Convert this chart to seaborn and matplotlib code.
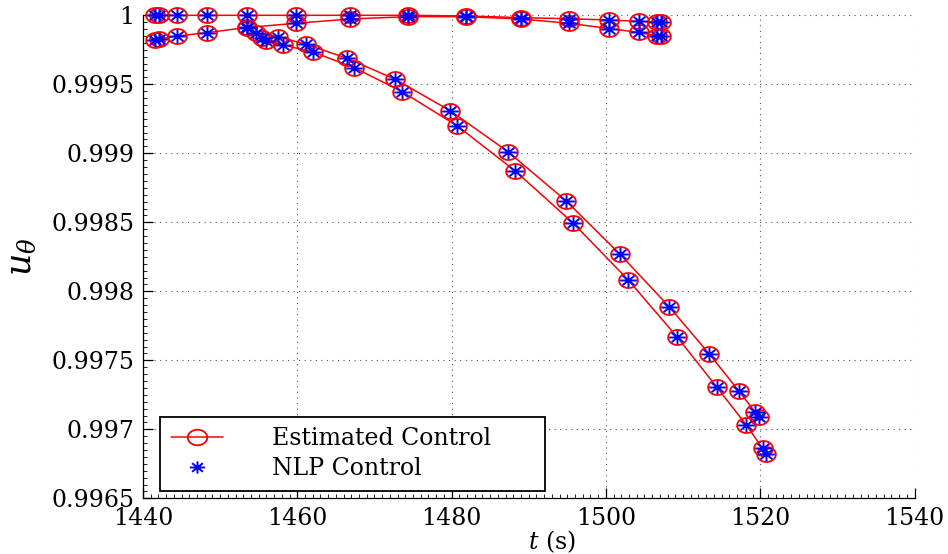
import numpy as np
import matplotlib
matplotlib.use("Agg")
import matplotlib.pyplot as plt
from matplotlib.path import Path
from matplotlib.lines import Line2D
from matplotlib.ticker import FixedLocator, MultipleLocator, FuncFormatter
import seaborn as sns

# --- data -----------------------------------------------------------------
# upper two segments (same time nodes)
t_upper = [1441.5, 1442.1, 1444.4, 1448.3, 1453.5, 1459.8, 1466.8, 1474.4,
           1481.9, 1489.0, 1495.2, 1500.4, 1504.3, 1506.6, 1507.2]
u_upper_1 = [1.0, 1.0, 1.0, 1.0, 1.0, 1.0, 1.0, 1.0,
             0.999995, 0.999983, 0.999975, 0.999966, 0.999956, 0.99995, 0.999948]
u_upper_2 = [0.99982, 0.999826, 0.99985, 0.999874, 0.999912, 0.999942, 0.999973, 0.99999,
             0.99999, 0.999973, 0.999942, 0.999904, 0.999876, 0.99985, 0.999848]

# descending segments
t_desc_1 = [1453.5, 1454.7, 1457.5, 1461.1, 1466.4, 1472.7, 1479.8, 1487.3,
            1494.8, 1501.8, 1508.2, 1513.4, 1517.2, 1519.3, 1519.9]
u_desc_1 = [0.99991, 0.99987, 0.999845, 0.99979, 0.99969, 0.999536, 0.999309, 0.999012,
            0.998657, 0.99827, 0.997888, 0.997546, 0.99728, 0.997128, 0.997087]
t_desc_2 = [1455.4, 1456.0, 1458.2, 1462.1, 1467.4, 1473.6, 1480.7, 1488.2,
            1495.7, 1502.9, 1509.2, 1514.4, 1518.2, 1520.3, 1520.8]
u_desc_2 = [0.999838, 0.999814, 0.999785, 0.999732, 0.99962, 0.999446, 0.9992, 0.998874,
            0.998497, 0.998082, 0.997671, 0.997304, 0.997031, 0.996862, 0.996821]

x_ticks = [1440, 1460, 1480, 1500, 1520, 1540]
y_ticks = [0.9965, 0.997, 0.9975, 0.998, 0.9985, 0.999, 0.9995, 1.0]

segments = [(t_upper, u_upper_1), (t_upper, u_upper_2),
            (t_desc_1, u_desc_1), (t_desc_2, u_desc_2)]

# --- style ----------------------------------------------------------------
sns.set_style("white")
plt.rcParams["font.family"] = ["DejaVu Serif"]
plt.rcParams["mathtext.fontset"] = "dejavuserif"
plt.rcParams["text.color"] = "black"
plt.rcParams["axes.labelcolor"] = "black"
plt.rcParams["xtick.color"] = "black"
plt.rcParams["ytick.color"] = "black"

# slightly wide ellipse and eight-arm asterisk markers
theta = np.linspace(0, 2 * np.pi, 60)
ellipse = Path(np.column_stack([1.25 * np.cos(theta), np.sin(theta)]), closed=True)
ang = np.deg2rad([0, 45, 90, 135])
ast_verts, ast_codes = [], []
for a in ang:
    ast_verts += [(-1.25 * np.cos(a), -np.sin(a)), (1.25 * np.cos(a), np.sin(a))]
    ast_codes += [Path.MOVETO, Path.LINETO]
asterisk = Path(ast_verts, ast_codes)

fig = plt.figure(figsize=(9.48, 5.54), dpi=100)
ax = fig.add_axes([0.1508, 0.1005, 0.8139, 0.8719])

for t, u in segments:
    sns.lineplot(x=t, y=u, ax=ax, sort=False, estimator=None,
                 color="red", linewidth=1.1, marker=ellipse, markersize=13.5,
                 mfc="none", mec="red", mew=1.3, clip_on=False, zorder=3)
for t, u in segments:
    sns.lineplot(x=t, y=u, ax=ax, sort=False, estimator=None,
                 color="blue", linestyle="", marker=asterisk, markersize=12,
                 mfc="none", mec="blue", mew=1.4, clip_on=False, zorder=4)

ax.set_xlim(1440, 1540)
ax.set_ylim(0.9965, 1.0)
ax.xaxis.set_major_locator(FixedLocator(x_ticks))
ax.yaxis.set_major_locator(FixedLocator(y_ticks))
ax.xaxis.set_minor_locator(MultipleLocator(1))
ax.yaxis.set_minor_locator(MultipleLocator(0.00005))
ax.yaxis.set_major_formatter(FuncFormatter(lambda v, p: f"{v:g}"))
ax.tick_params(which="major", direction="in", length=7, width=0.9,
               labelsize=17, pad=6, colors="black")
ax.tick_params(which="minor", direction="in", length=3, width=0.6, colors="black")
ax.tick_params(axis="x", which="both", bottom=True, top=False)
ax.tick_params(axis="y", which="both", left=True, right=False)

ax.grid(True, which="major", linestyle=(0, (1, 4)), color="#555555", linewidth=0.8)
for side in ("top", "right"):
    ax.spines[side].set_visible(False)
for side in ("left", "bottom"):
    ax.spines[side].set_color("black")
    ax.spines[side].set_linewidth(0.9)

ax.set_xlabel(r"$t$ (s)", fontsize=17, labelpad=2, color="black")
ax.set_ylabel(r"$u_\theta$", fontsize=25, labelpad=10, color="black")
ax.xaxis.set_label_coords(0.53, -0.063)

handles = [
    Line2D([], [], color="red", linewidth=1.1, marker=ellipse, markersize=14,
           mfc="none", mec="red", mew=1.3),
    Line2D([], [], color="blue", linestyle="", marker=asterisk, markersize=11,
           mfc="none", mec="blue", mew=1.4),
]
leg = ax.legend(handles, ["Estimated Control", "NLP Control"],
                loc="lower left", bbox_to_anchor=(0.022, 0.015, 0.499, 0.17),
                mode="expand", fontsize=17, frameon=True, fancybox=False,
                edgecolor="black", framealpha=1, borderpad=0.45,
                handlelength=2.2, handletextpad=2.1, labelspacing=0.3,
                borderaxespad=0, labelcolor="black")
leg.get_frame().set_linewidth(1.3)

fig.savefig("out.png", dpi=100)
